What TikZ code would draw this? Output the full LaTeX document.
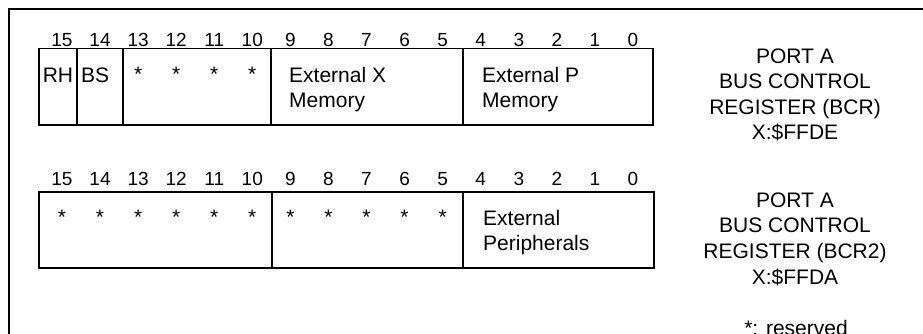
\documentclass[tikz,border=0pt]{standalone}
\usepackage{fontspec}
\setmainfont{Liberation Sans}
\begin{document}
\begin{tikzpicture}[x=1pt,y=-1pt,
  frameline/.style={line width=2pt},
  boxline/.style={line width=1.1pt},
  bitnum/.style={anchor=base,inner sep=0pt,font=\fontsize{19}{21}\selectfont},
  fieldtxt/.style={anchor=base west,inner sep=0pt,font=\fontsize{21}{25.7}\selectfont},
  star/.style={anchor=base,inner sep=0pt,font=\fontsize{21}{25.7}\selectfont},
  title/.style={anchor=base,inner sep=0pt,font=\fontsize{21}{25.7}\selectfont}]
\useasboundingbox (0,0) rectangle (923,333);
\clip (0,0) rectangle (923,333);
% outer frame (continues beyond the right and bottom edges)
\draw[frameline] (9,350) -- (9,9) -- (940,9);
% ---------- register BCR ----------
\draw[boxline] (39,48.5) rectangle (653,125);
\foreach \xx in {77,123,271,463} \draw[boxline] (\xx,48.5) -- (\xx,125);
\foreach \b in {0,...,15} \node[bitnum] (ta\b) at ({633-38.07*\b},46.7) {\b};
\node[fieldtxt,anchor=base] (rh) at (58,82) {RH};
\node[fieldtxt] (bs) at (81,82) {BS};
\foreach \b in {10,...,13} \node[star] (sa\b) at ({633-38.07*\b},81) {*};
\node[fieldtxt] (xm1) at (289,82) {External X};
\node[fieldtxt] (xm2) at (289,107.5) {Memory};
\node[fieldtxt] (pm1) at (482,82) {External P};
\node[fieldtxt] (pm2) at (482,107.5) {Memory};
\node[title] (ta) at (795,63) {PORT A};
\node[title] (tb) at (795,88.5) {BUS CONTROL};
\node[title] (tc) at (795,114) {REGISTER (BCR)};
\node[title] (td) at (795,139.7) {X:\$FFDE};
% ---------- register BCR2 ----------
\draw[boxline] (39,192) rectangle (654,268);
\foreach \xx in {272,463} \draw[boxline] (\xx,192) -- (\xx,268);
\foreach \b in {0,...,15} \node[bitnum] (tb\b) at ({633-38.07*\b},185) {\b};
\foreach \b in {5,...,15} \node[star] (sb\b) at ({633-38.07*\b},224.5) {*};
\node[fieldtxt] (ep1) at (483,225) {External};
\node[fieldtxt] (ep2) at (483,250.7) {Peripherals};
\node[title] (ua) at (795,207) {PORT A};
\node[title] (ub) at (795,232.7) {BUS CONTROL};
\node[title] (uc) at (795,258.4) {REGISTER (BCR2)};
\node[title] (ud) at (795,284) {X:\$FFDA};
\node[title] (res) at (796,335) {*: reserved};
\end{tikzpicture}
\end{document}
